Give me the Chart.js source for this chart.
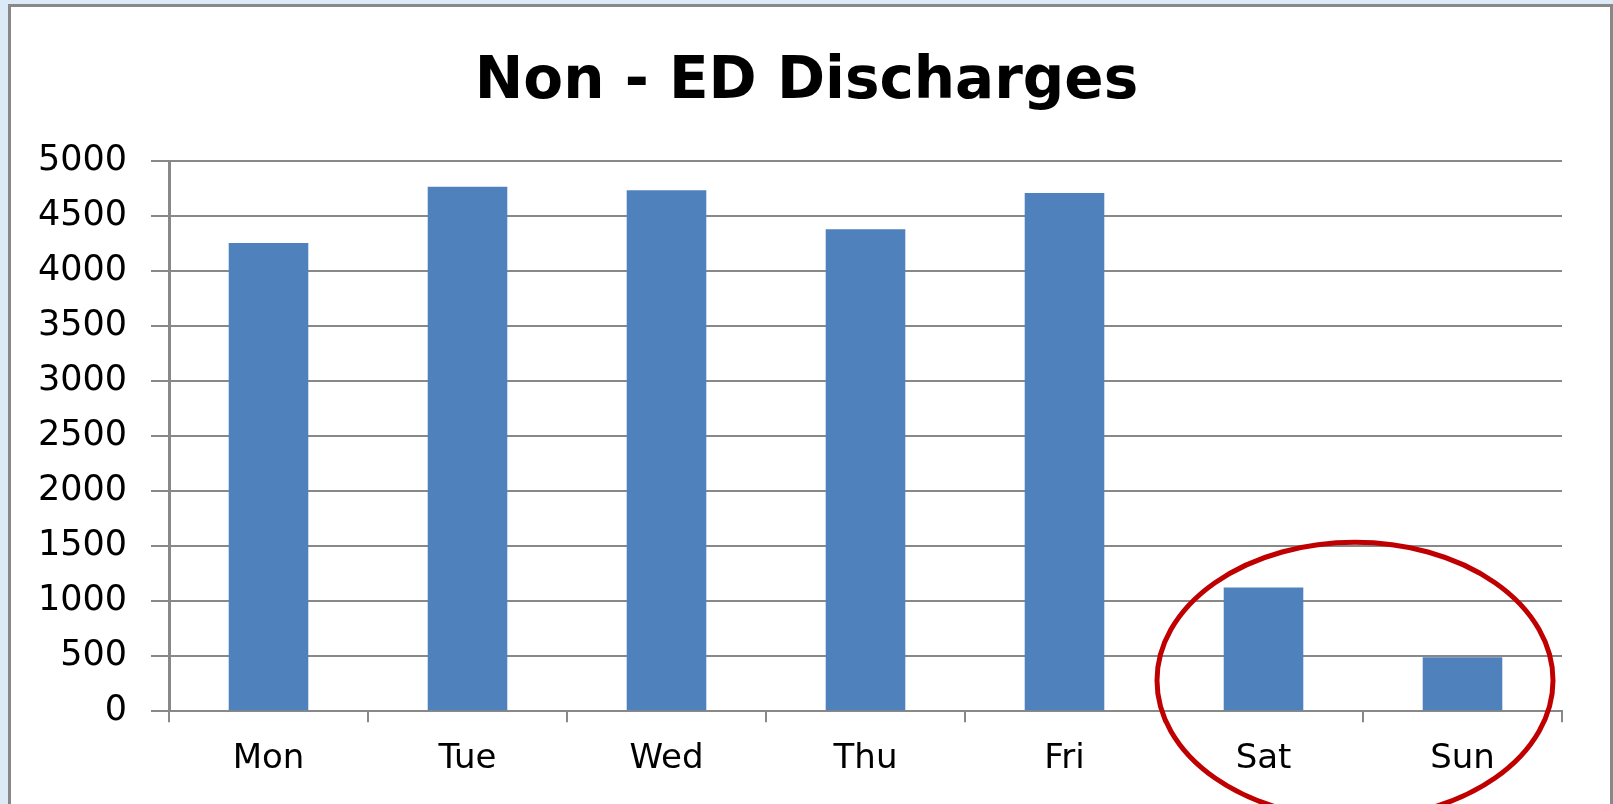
<!DOCTYPE html>
<html>
<head>
<meta charset="utf-8">
<script src="https://cdn.jsdelivr.net/npm/chart.js@4.4.1/dist/chart.umd.min.js"></script>
<style>
  html, body { margin: 0; padding: 0; background: #dce9f7; overflow: hidden; width: 1613px; height: 804px; }
  #panel { position: absolute; left: 8px; top: 4px; width: 1599px; height: 830px; border: 3px solid #888888; background: #ffffff; }
  #c { position: absolute; left: 0; top: 0; }
</style>
</head>
<body>
<div id="panel"><canvas id="c" width="1599" height="797"></canvas></div>
<script>
// ---- data ----
const titleText = 'Non - ED Discharges';
const categories = ['Mon', 'Tue', 'Wed', 'Thu', 'Fri', 'Sat', 'Sun'];
const discharges = [4255, 4765, 4735, 4380, 4710, 1125, 490];
const yTicks = [0, 500, 1000, 1500, 2000, 2500, 3000, 3500, 4000, 4500, 5000];
// highlight ellipse around weekend bars (in data units)
const highlightCats = ['Sat', 'Sun'];
const highlightCenterValue = 280;
const highlightHalfHeightValue = 1255;

const gridColor = '#888888';

const titlePlugin = {
  id: 'centeredTitle',
  afterDraw(chart) {
    const ctx = chart.ctx;
    ctx.save();
    ctx.font = 'bold 58px "DejaVu Sans", sans-serif';
    ctx.fillStyle = '#000000';
    ctx.textAlign = 'center';
    ctx.textBaseline = 'alphabetic';
    ctx.fillText(titleText, chart.width / 2 - 4, 91);
    ctx.restore();
  }
};

const ellipsePlugin = {
  id: 'weekendEllipse',
  afterDraw(chart) {
    const xs = chart.scales.x, ys = chart.scales.y;
    const x1 = xs.getPixelForValue(categories.indexOf(highlightCats[0]));
    const x2 = xs.getPixelForValue(categories.indexOf(highlightCats[1]));
    const cx = (x1 + x2) / 2 - 8;
    const rx = (x2 - x1) * 0.995;
    const cy = ys.getPixelForValue(highlightCenterValue);
    const ry = ys.getPixelForValue(0) - ys.getPixelForValue(highlightHalfHeightValue);
    const ctx = chart.ctx;
    ctx.save();
    ctx.beginPath();
    ctx.ellipse(cx, cy, rx, ry, 0, 0, Math.PI * 2);
    ctx.strokeStyle = '#c00000';
    ctx.lineWidth = 5;
    ctx.stroke();
    ctx.restore();
  }
};

new Chart(document.getElementById('c'), {
  type: 'bar',
  data: {
    labels: categories,
    datasets: [{
      label: titleText,
      data: discharges,
      backgroundColor: '#4f81bd',
      borderWidth: 0,
      barPercentage: 0.4,
      categoryPercentage: 1.0
    }]
  },
  options: {
    responsive: false,
    animation: false,
    devicePixelRatio: 1,
    layout: { padding: { left: 0, right: 48, top: 154, bottom: 7 } },
    plugins: {
      legend: { display: false },
      tooltip: { enabled: false },
      title: { display: false }
    },
    scales: {
      x: {
        grid: { display: true, drawOnChartArea: false, drawTicks: true, tickLength: 11, color: gridColor, lineWidth: 2, offset: true },
        border: { display: true, color: gridColor, width: 2 },
        ticks: { color: '#000000', padding: 17, font: { family: '"DejaVu Sans", sans-serif', size: 34, lineHeight: 1.2 } }
      },
      y: {
        min: 0,
        max: 5000,
        afterBuildTicks(scale) { scale.ticks = yTicks.map(v => ({ value: v })); },
        afterFit(scale) { scale.width = 158; },
        grid: { display: true, drawTicks: true, tickLength: 18, color: gridColor, lineWidth: 2 },
        border: { display: true, color: gridColor, width: 3 },
        ticks: {
          color: '#000000', padding: 24,
          font: { family: '"DejaVu Sans", sans-serif', size: 35, lineHeight: 1.2 },
          callback: (v) => String(v)
        }
      }
    }
  },
  plugins: [ellipsePlugin, titlePlugin]
});
</script>
</body>
</html>
